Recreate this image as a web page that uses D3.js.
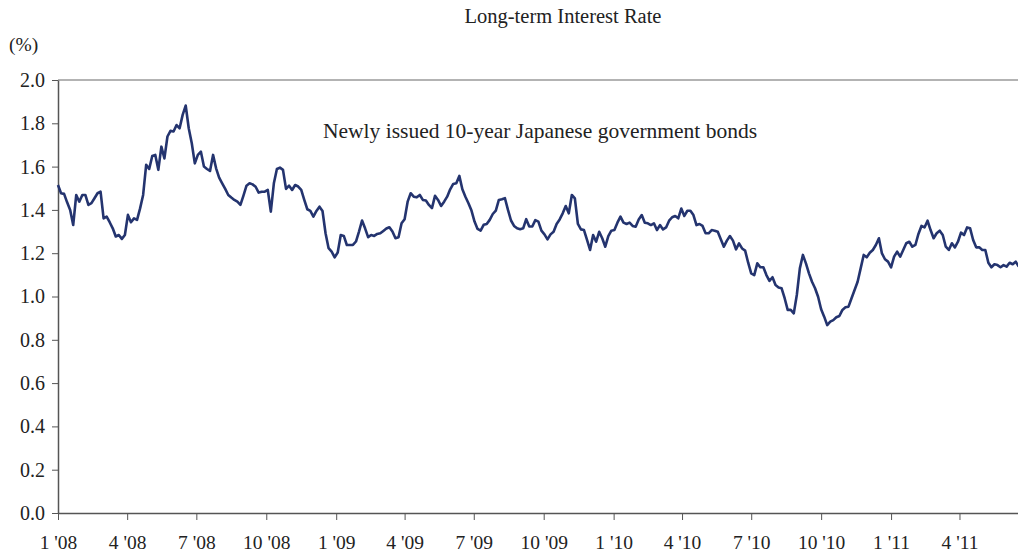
<!DOCTYPE html>
<html>
<head>
<meta charset="utf-8">
<script src="https://cdn.jsdelivr.net/npm/d3@7"></script>
<style>
  body { margin: 0; background: #fff; }
  text { font-family: "Liberation Serif", "Times New Roman", serif; fill: #222; }
</style>
</head>
<body>
<div id="chart"></div>
<script>
// readings of the yield, one every 4 days starting 1 Jan 2008
var startDate = "2008-01-01";
var stepDays = 4;
var yields = [
  1.515, 1.477, 1.474, 1.435, 1.400, 1.330, 1.469, 1.438, 1.469, 1.469, 1.423, 1.431, 1.454,
  1.477, 1.484, 1.361, 1.369, 1.343, 1.315, 1.277, 1.284, 1.266, 1.284, 1.377, 1.343, 1.361,
  1.354, 1.407, 1.469, 1.608, 1.589, 1.649, 1.654, 1.585, 1.692, 1.638, 1.739, 1.765, 1.762,
  1.792, 1.777, 1.839, 1.882, 1.777, 1.708, 1.615, 1.654, 1.669, 1.600, 1.589, 1.580, 1.654,
  1.592, 1.549, 1.523, 1.497, 1.469, 1.457, 1.446, 1.438, 1.423, 1.466, 1.512, 1.523, 1.518,
  1.507, 1.480, 1.484, 1.484, 1.492, 1.392, 1.523, 1.589, 1.595, 1.585, 1.497, 1.512, 1.492,
  1.515, 1.508, 1.492, 1.446, 1.403, 1.395, 1.369, 1.395, 1.415, 1.395, 1.292, 1.223, 1.207,
  1.181, 1.203, 1.284, 1.280, 1.238, 1.238, 1.238, 1.254, 1.300, 1.351, 1.315, 1.274, 1.284,
  1.280, 1.289, 1.292, 1.303, 1.314, 1.320, 1.300, 1.269, 1.274, 1.338, 1.357, 1.438, 1.477,
  1.461, 1.458, 1.469, 1.446, 1.443, 1.423, 1.408, 1.465, 1.446, 1.418, 1.438, 1.461, 1.495,
  1.520, 1.523, 1.557, 1.495, 1.461, 1.431, 1.397, 1.346, 1.312, 1.304, 1.331, 1.335, 1.354,
  1.381, 1.397, 1.446, 1.449, 1.454, 1.400, 1.351, 1.326, 1.315, 1.311, 1.315, 1.357, 1.323,
  1.323, 1.353, 1.346, 1.304, 1.287, 1.264, 1.287, 1.299, 1.335, 1.356, 1.384, 1.418, 1.384,
  1.469, 1.453, 1.335, 1.310, 1.307, 1.261, 1.215, 1.284, 1.253, 1.299, 1.269, 1.230, 1.279,
  1.304, 1.307, 1.341, 1.369, 1.341, 1.335, 1.341, 1.326, 1.322, 1.356, 1.376, 1.341, 1.338,
  1.330, 1.338, 1.307, 1.330, 1.310, 1.319, 1.350, 1.366, 1.372, 1.361, 1.406, 1.372, 1.396,
  1.396, 1.376, 1.330, 1.335, 1.326, 1.292, 1.292, 1.307, 1.304, 1.299, 1.264, 1.230, 1.258,
  1.279, 1.258, 1.218, 1.245, 1.222, 1.212, 1.156, 1.107, 1.099, 1.153, 1.135, 1.135, 1.099,
  1.072, 1.089, 1.053, 1.042, 1.038, 0.992, 0.938, 0.938, 0.922, 1.007, 1.130, 1.192, 1.153,
  1.107, 1.068, 1.038, 0.999, 0.941, 0.907, 0.868, 0.884, 0.891, 0.904, 0.910, 0.938, 0.950,
  0.953, 0.992, 1.030, 1.068, 1.130, 1.192, 1.181, 1.202, 1.215, 1.238, 1.269, 1.199, 1.172,
  1.161, 1.135, 1.184, 1.207, 1.184, 1.215, 1.246, 1.253, 1.230, 1.238, 1.289, 1.326, 1.319,
  1.350, 1.307, 1.269, 1.292, 1.304, 1.284, 1.230, 1.215, 1.246, 1.227, 1.253, 1.295, 1.284,
  1.319, 1.315, 1.261, 1.227, 1.227, 1.215, 1.215, 1.156, 1.135, 1.149, 1.145, 1.135, 1.145,
  1.138, 1.156, 1.149, 1.161, 1.138
];
var yTicks = [0, 0.2, 0.4, 0.6, 0.8, 1.0, 1.2, 1.4, 1.6, 1.8, 2.0];
var xTickMonths = ["2008-01", "2008-04", "2008-07", "2008-10", "2009-01", "2009-04", "2009-07",
  "2009-10", "2010-01", "2010-04", "2010-07", "2010-10", "2011-01", "2011-04"];
var chartTitle = "Long-term Interest Rate";
var seriesLabel = "Newly issued 10-year Japanese government bonds";

var svgWidth = 1018;
var svgHeight = 556;
var margin = { top: 80, right: 0, bottom: 43, left: 58 };
var width = svgWidth - margin.left - margin.right;
var height = svgHeight - margin.top - margin.bottom;

var serif = "'Liberation Serif', 'Times New Roman', serif";

var parseDay = d3.timeParse("%Y-%m-%d");
var parseMonth = d3.timeParse("%Y-%m");
var start = parseDay(startDate);

var data = yields.map(function(v, i) {
  return { date: d3.timeDay.offset(start, i * stepDays), value: v };
});

var svg = d3.select("#chart")
  .append("svg")
  .attr("width", svgWidth)
  .attr("height", svgHeight);

var chartGroup = svg.append("g")
  .attr("transform", `translate(${margin.left}, ${margin.top})`);

var xScale = d3.scaleTime()
  .domain([start, parseDay("2011-06-17")])
  .range([0, width]);

var yScale = d3.scaleLinear()
  .domain([0, 2])
  .range([height, 0]);

// top border of the plot area
chartGroup.append("line")
  .attr("x1", 0).attr("x2", width)
  .attr("y1", yScale(2)).attr("y2", yScale(2))
  .attr("stroke", "#9a9a9a")
  .attr("stroke-width", 1.5);

var leftAxis = d3.axisLeft(yScale)
  .tickValues(yTicks)
  .tickFormat(d3.format(".1f"))
  .tickSizeInner(6)
  .tickSizeOuter(0)
  .tickPadding(7);

var yAxisG = chartGroup.append("g").call(leftAxis);
yAxisG.attr("font-family", serif).attr("font-size", 20);
yAxisG.select(".domain").attr("stroke", "#555").attr("stroke-width", 1.5);
yAxisG.selectAll(".tick line").attr("stroke", "#555");
yAxisG.selectAll("text")
  .style("font-family", serif)
  .style("font-size", "20px")
  .attr("fill", "#222");

var monthFmt = d3.timeFormat("%-m");
var yearFmt = d3.timeFormat("%y");
var bottomAxis = d3.axisBottom(xScale)
  .tickValues(xTickMonths.map(parseMonth))
  .tickFormat(function(d) { return monthFmt(d) + " '" + yearFmt(d); })
  .tickSizeInner(7)
  .tickSizeOuter(0)
  .tickPadding(15);

var xAxisG = chartGroup.append("g")
  .attr("transform", `translate(0, ${height})`)
  .call(bottomAxis);
xAxisG.attr("font-family", serif).attr("font-size", 19.5);
xAxisG.select(".domain").attr("stroke", "#555").attr("stroke-width", 1.5);
xAxisG.selectAll(".tick line").attr("stroke", "#555");
xAxisG.selectAll("text")
  .style("font-family", serif)
  .style("font-size", "19.5px")
  .attr("fill", "#222");

var line = d3.line()
  .x(d => xScale(d.date))
  .y(d => yScale(d.value));

chartGroup.append("path")
  .datum(data)
  .attr("fill", "none")
  .attr("stroke", "#24346f")
  .attr("stroke-width", 2.6)
  .attr("stroke-linejoin", "round")
  .attr("d", line);

// titles
svg.append("text")
  .attr("x", 563)
  .attr("y", 23)
  .style("text-anchor", "middle")
  .style("font-family", serif)
  .style("font-size", "20.5px")
  .text(chartTitle);

svg.append("text")
  .attr("x", 9)
  .attr("y", 51)
  .style("font-family", serif)
  .style("font-size", "19.5px")
  .text("(%)");

svg.append("text")
  .attr("x", 323)
  .attr("y", 138)
  .style("font-family", serif)
  .style("font-size", "21.5px")
  .text(seriesLabel);
</script>
</body>
</html>
